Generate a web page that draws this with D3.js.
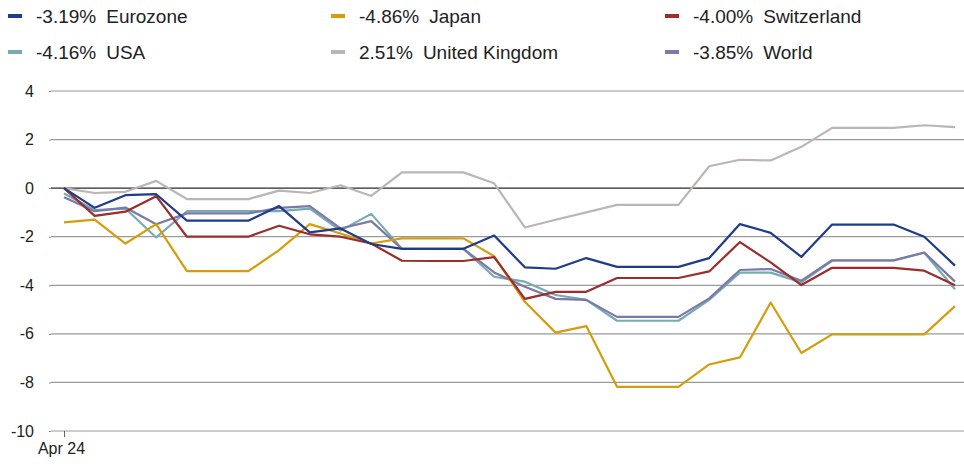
<!DOCTYPE html>
<html>
<head>
<meta charset="utf-8">
<script src="https://cdn.jsdelivr.net/npm/d3@7"></script>
<style>
  html, body { margin: 0; padding: 0; background: #fff; }
  svg { display: block; }
  text { font-family: "Liberation Sans", Arial, sans-serif; fill: #222; }
</style>
</head>
<body>
<svg id="chart" width="964" height="464"></svg>
<script>
// ---- Data (weekly points, first = Apr 24) ----
const xLabels = ["Apr 24"];
const yTicks = [-10, -8, -6, -4, -2, 0, 2, 4];

const seriesNames = ["Eurozone", "Japan", "Switzerland", "USA", "United Kingdom", "World"];
const seriesLabels = ["-3.19%", "-4.86%", "-4.00%", "-4.16%", "2.51%", "-3.85%"];
const seriesColors = ["#1f3b8a", "#d49d0c", "#9b2d2a", "#78aab4", "#bdb5b4", "#7a7aa6"];

const eurozone = [0, -0.81, -0.29, -0.25, -1.34, -1.34, -1.34, -0.74, -1.82, -1.66,
  -2.3, -2.5, -2.5, -2.5, -1.95, -3.26, -3.32, -2.88, -3.24, -3.24,
  -3.24, -2.88, -1.48, -1.84, -2.83, -1.5, -1.5, -1.5, -2.0, -3.19];
const japan = [-1.41, -1.3, -2.28, -1.48, -3.42, -3.42, -3.42, -2.55, -1.48, -1.87,
  -2.28, -2.07, -2.07, -2.07, -2.8, -4.68, -5.95, -5.68, -8.18, -8.18,
  -8.18, -7.26, -6.97, -4.71, -6.79, -6.02, -6.02, -6.02, -6.02, -4.86];
const switzerland = [0, -1.14, -0.97, -0.33, -2.0, -2.0, -2.0, -1.55, -1.9, -2.0,
  -2.28, -2.99, -3.0, -3.0, -2.84, -4.56, -4.27, -4.27, -3.7, -3.7,
  -3.7, -3.43, -2.22, -3.06, -3.99, -3.28, -3.28, -3.28, -3.4, -4.0];
const usa = [-0.22, -0.9, -0.84, -2.03, -0.95, -0.95, -0.95, -0.95, -0.84, -1.75,
  -1.06, -2.5, -2.5, -2.5, -3.65, -3.85, -4.4, -4.6, -5.46, -5.46,
  -5.46, -4.6, -3.48, -3.48, -3.88, -2.99, -2.99, -2.99, -2.66, -4.16];
const unitedKingdom = [0, -0.2, -0.15, 0.3, -0.45, -0.45, -0.45, -0.1, -0.2, 0.12,
  -0.32, 0.65, 0.65, 0.65, 0.2, -1.62, -1.3, -1.0, -0.69, -0.69,
  -0.69, 0.9, 1.17, 1.14, 1.7, 2.48, 2.48, 2.48, 2.59, 2.51];
const world = [-0.38, -0.95, -0.8, -1.49, -1.04, -1.04, -1.04, -0.81, -0.74, -1.66,
  -1.36, -2.5, -2.5, -2.5, -3.47, -4.06, -4.56, -4.6, -5.3, -5.3,
  -5.3, -4.54, -3.37, -3.33, -3.81, -2.97, -2.97, -2.97, -2.65, -3.85];

const seriesValues = [eurozone, japan, switzerland, usa, unitedKingdom, world];
const drawOrder = [4, 3, 5, 1, 2, 0];

// ---- Layout ----
const svg = d3.select("#chart");
const gridLeft = 51, gridRight = 964;
const x = d3.scaleLinear().domain([0, eurozone.length - 1]).range([64, 955]);
const y = d3.scaleLinear().domain([-10, 4]).range([431, 91]);

// gridlines
svg.append("g").selectAll("line").data(yTicks).join("line")
  .attr("x1", gridLeft).attr("x2", gridRight)
  .attr("y1", d => y(d)).attr("y2", d => y(d))
  .attr("stroke", d => d === 0 ? "#2a2a2a" : "#9a9a9a")
  .attr("stroke-width", d => d === 0 ? 1.4 : 1.2);

// y axis labels (plain hyphen minus like the reference)
const yAxis = d3.axisLeft(y).tickValues(yTicks).tickSize(2).tickPadding(15)
  .tickFormat(d => String(d));
const gy = svg.append("g").attr("transform", `translate(${gridLeft},0)`).call(yAxis);
gy.select(".domain").remove();
gy.selectAll(".tick line").attr("stroke", "#888");
gy.selectAll(".tick text").style("font-size", "16px").attr("fill", "#222")
  .style("font-family", "'Liberation Sans', Arial, sans-serif");

// x axis (single label)
const xAxis = d3.axisBottom(x).tickValues([0]).tickSize(6).tickPadding(6)
  .tickFormat((d, i) => xLabels[i]);
const gx = svg.append("g").attr("transform", `translate(0,${y(-10)})`).call(xAxis);
gx.select(".domain").remove();
gx.selectAll(".tick line").attr("stroke", "#666");
gx.selectAll(".tick text").style("font-size", "16px").attr("fill", "#222")
  .style("font-family", "'Liberation Sans', Arial, sans-serif")
  .attr("dx", "-3");

// lines
const line = d3.line().x((d, i) => x(i)).y(d => y(d));
svg.append("g").selectAll("path").data(drawOrder).join("path")
  .attr("d", k => line(seriesValues[k]))
  .attr("fill", "none")
  .attr("stroke", k => seriesColors[k])
  .attr("stroke-width", 2.2)
  .attr("stroke-linejoin", "round");

// legend
const colX = [8, 331, 665];
const rowY = [16, 52];
const leg = svg.append("g").selectAll("g").data(seriesNames).join("g")
  .attr("transform", (d, i) => `translate(${colX[i % 3]},${rowY[Math.floor(i / 3)]})`);
leg.append("rect").attr("x", 0).attr("y", -2).attr("width", 14).attr("height", 4)
  .attr("fill", (d, i) => seriesColors[i]);
const pct = leg.append("text").attr("x", 28).attr("y", 0).attr("dy", "0.35em")
  .style("font-size", "19px")
  .text((d, i) => seriesLabels[i]);
leg.each(function (d, i) {
  const g = d3.select(this);
  const w = g.select("text").node().getComputedTextLength();
  g.append("text").attr("x", 28 + w + 10).attr("y", 0).attr("dy", "0.35em")
    .style("font-size", "19px")
    .text(d);
});
</script>
</body>
</html>
